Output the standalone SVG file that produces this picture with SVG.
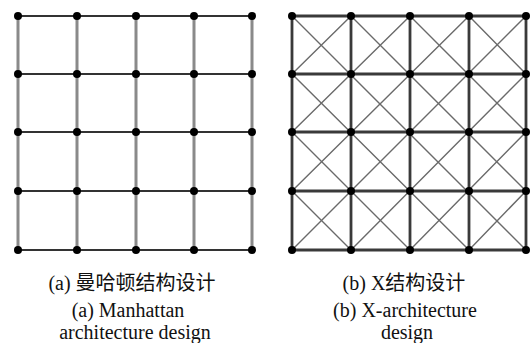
<svg xmlns="http://www.w3.org/2000/svg" width="532" height="343" viewBox="0 0 532 343">
<style>
.vl{stroke:#8a8a8a;stroke-width:3;fill:none}
.hl{stroke:#333;stroke-width:2;fill:none}
.xl{stroke:#3a3a3a;stroke-width:2.8;fill:none}
.dg{stroke:#6a6a6a;stroke-width:1.4;fill:none}
.nd{fill:#000}
.cap{font-size:20px;fill:#111;text-anchor:middle}
</style>
<rect width="532" height="343" fill="#fff"/>
<g id="edges">
<g id="grid-a">
<path class="vl" d="M18,16V250M77,16V250M136,16V250M194,16V250M252,16V250"/>
<path class="hl" d="M18,16H252M18,74H252M18,132H252M18,191H252M18,250H252"/>
</g>
<g id="grid-b">
<path class="dg" d="M292,16L526,250M351,16L526,191M410,16L526,132M469,16L526,74M292,74L469,250M292,132L410,250M292,191L351,250"/>
<path class="dg" d="M526,16L292,250M469,16L292,191M410,16L292,132M351,16L292,74M526,74L351,250M526,132L410,250M526,191L469,250"/>
<path class="xl" d="M292,16V250M351,16V250M410,16V250M469,16V250M526,16V250"/>
<path class="xl" d="M292,16H526M292,74H526M292,132H526M292,191H526M292,250H526"/>
</g>
</g>
<g id="nodes-a" class="nd">
<circle cx="18" cy="16" r="4"/><circle cx="77" cy="16" r="4"/><circle cx="136" cy="16" r="4"/><circle cx="194" cy="16" r="4"/><circle cx="252" cy="16" r="4"/>
<circle cx="18" cy="74" r="4"/><circle cx="77" cy="74" r="4"/><circle cx="136" cy="74" r="4"/><circle cx="194" cy="74" r="4"/><circle cx="252" cy="74" r="4"/>
<circle cx="18" cy="132" r="4"/><circle cx="77" cy="132" r="4"/><circle cx="136" cy="132" r="4"/><circle cx="194" cy="132" r="4"/><circle cx="252" cy="132" r="4"/>
<circle cx="18" cy="191" r="4"/><circle cx="77" cy="191" r="4"/><circle cx="136" cy="191" r="4"/><circle cx="194" cy="191" r="4"/><circle cx="252" cy="191" r="4"/>
<circle cx="18" cy="250" r="4"/><circle cx="77" cy="250" r="4"/><circle cx="136" cy="250" r="4"/><circle cx="194" cy="250" r="4"/><circle cx="252" cy="250" r="4"/>
</g>
<g id="nodes-b" class="nd">
<circle cx="292" cy="16" r="4"/><circle cx="351" cy="16" r="4"/><circle cx="410" cy="16" r="4"/><circle cx="469" cy="16" r="4"/><circle cx="526" cy="16" r="4"/>
<circle cx="292" cy="74" r="4"/><circle cx="351" cy="74" r="4"/><circle cx="410" cy="74" r="4"/><circle cx="469" cy="74" r="4"/><circle cx="526" cy="74" r="4"/>
<circle cx="292" cy="132" r="4"/><circle cx="351" cy="132" r="4"/><circle cx="410" cy="132" r="4"/><circle cx="469" cy="132" r="4"/><circle cx="526" cy="132" r="4"/>
<circle cx="292" cy="191" r="4"/><circle cx="351" cy="191" r="4"/><circle cx="410" cy="191" r="4"/><circle cx="469" cy="191" r="4"/><circle cx="526" cy="191" r="4"/>
<circle cx="292" cy="250" r="4"/><circle cx="351" cy="250" r="4"/><circle cx="410" cy="250" r="4"/><circle cx="469" cy="250" r="4"/><circle cx="526" cy="250" r="4"/>
</g>
<g id="caption-a" class="cap" font-family="'Liberation Serif', 'Noto Sans CJK SC', serif">
<text x="132" y="290">(a) 曼哈顿结构设计</text>
<text x="128" y="317">(a) Manhattan</text>
<text x="135" y="339">architecture design</text>
</g>
<g id="caption-b" class="cap" font-family="'Liberation Serif', 'Noto Sans CJK SC', serif">
<text x="404" y="290">(b) X结构设计</text>
<text x="405" y="317">(b) X-architecture</text>
<text x="407" y="339">design</text>
</g>
</svg>
